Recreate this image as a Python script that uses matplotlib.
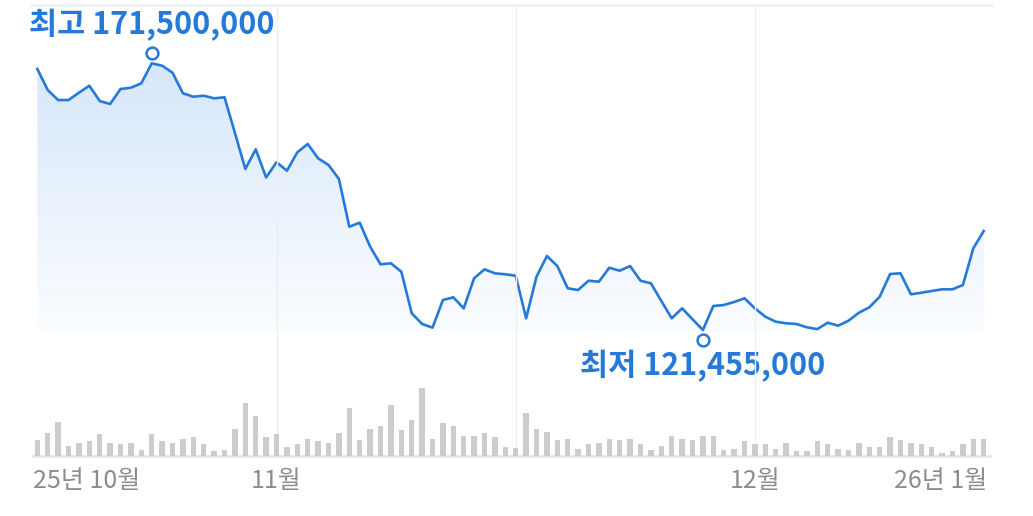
import numpy as np
import matplotlib
matplotlib.use("Agg")
import matplotlib.pyplot as plt
import matplotlib.transforms as mtransforms
from matplotlib.patches import Polygon
from matplotlib.colors import LinearSegmentedColormap

plt.rcParams['font.family'] = ['Noto Sans CJK KR', 'DejaVu Sans']

# ---- data (price in millions of KRW, volume in relative units) ----
price = [170.43, 166.49, 164.61, 164.61, 165.98, 167.30, 164.43, 163.86, 166.68, 166.92,
         167.75, 171.50, 171.05, 169.74, 165.87, 165.23, 165.42, 164.93, 165.12, 158.42,
         151.67, 155.36, 150.07, 152.94, 151.35, 154.80, 156.36, 153.67, 152.42, 149.79,
         140.84, 141.59, 137.09, 133.78, 133.97, 132.39, 124.59, 122.58, 121.90, 127.08,
         127.59, 125.52, 131.16, 132.84, 132.09, 131.91, 131.64, 123.65, 131.46, 135.34,
         133.46, 129.28, 128.96, 130.70, 130.52, 133.14, 132.58, 133.46, 130.70, 130.22,
         126.90, 123.65, 125.52, 123.46, 121.455, 125.96, 126.14, 126.71, 127.40, 125.52,
         123.95, 123.01, 122.71, 122.58, 121.96, 121.62, 122.82, 122.26, 123.20, 124.70,
         125.71, 127.70, 131.96, 132.09, 128.15, 128.45, 128.77, 129.09, 129.09, 129.90,
         136.78, 140.03]
volume = [15.7, 22.7, 34, 10, 13, 14.3, 21.3, 13, 11.7, 13,
          5.7, 21.3, 14.3, 13, 17, 18.3, 11.7, 4.3, 5.7, 27,
          52.3, 39.7, 18.3, 21.3, 8.7, 11.7, 17, 14.3, 13, 22.7,
          48, 15.7, 27, 30, 51, 25.7, 35.3, 67.7, 17, 32.7,
          30, 20, 20, 22.7, 18.3, 8.7, 7.3, 42.7, 27, 24,
          15.7, 17, 7, 11.7, 13, 17, 15.7, 17, 11.7, 5.7,
          10, 20, 17, 15.7, 20, 20, 5.7, 7, 14.3, 11.7,
          11.7, 7, 13, 4.3, 4.3, 14.3, 11.7, 7, 5.7, 13,
          8.7, 8.7, 18.3, 15.7, 13, 11.7, 8.7, 3, 4.3, 11.7,
          17, 17]
tick_idx = [0, 23, 69, 91]
tick_labels = ['25년 10월', '11월', '12월', '26년 1월']
grid_idx = [23, 46, 69]
high_label = '최고 171,500,000'
low_label = '최저 121,455,000'

x = np.arange(len(price))
W, H = 1033, 516
fig = plt.figure(figsize=(W / 100, H / 100), dpi=100)
fig.patch.set_facecolor('white')

ax = fig.add_axes([0, 0, 1, 1])
ax.set_xlim(-3.59, 95.74)
ax.set_ylim(86.55, 183.38)
ax.axis('off')

axv = fig.add_axes([0, 0, 1, 1], sharex=ax)
axv.patch.set_alpha(0)
axv.set_ylim(-60.5, 455.5)
axv.axis('off')

blue = '#2479d9'

# top separator line and baseline
ax.plot([-0.7, 91.9], [182.45, 182.45], color='#f0f0f0', lw=2, solid_capstyle='butt')
axv.plot([-0.4, 91.6], [-0.8, -0.8], color='#e6e6e6', lw=2)

# vertical grid
for g in grid_idx:
    axv.plot([g, g], [0, 450], color='#eeeeee', lw=1, zorder=0)

# gradient fill under line
base = 121.0
verts = [(0, base)] + list(zip(x, price)) + [(x[-1], base)]
poly = Polygon(verts, closed=True, facecolor='none', edgecolor='none')
ax.add_patch(poly)
grad = np.linspace(0, 1, 256).reshape(-1, 1)
cmap = LinearSegmentedColormap.from_list('g', ['#fbfdff', '#d6e7fb'])
im = ax.imshow(grad, aspect='auto', cmap=cmap, origin='lower',
               extent=[0, x[-1], base, max(price)], zorder=1)
im.set_clip_path(poly)

# price line
ax.plot(x, price, color=blue, lw=1.9, zorder=3, solid_joinstyle='round')

# volume bars
axv.bar(x, volume, width=0.52, color='#cccccc', zorder=2)

# high / low markers and labels
ih = int(np.argmax(price))
il = int(np.argmin(price))
up = mtransforms.offset_copy(ax.transData, fig=fig, x=0, y=10, units='dots')
dn = mtransforms.offset_copy(ax.transData, fig=fig, x=0, y=-10, units='dots')
ax.plot(x[ih], price[ih], 'o', ms=8.5, mfc='white', mec=blue, mew=1.8, transform=up, zorder=4)
ax.plot(x[il], price[il], 'o', ms=8.5, mfc='white', mec=blue, mew=1.8, transform=dn, zorder=4)
ax.annotate(high_label, (x[ih], price[ih]), xytext=(0, 38), textcoords='offset pixels',
            ha='center', va='center', color=blue, fontsize=22, fontweight='bold')
ax.annotate(low_label, (x[il], price[il]), xytext=(0, -36), textcoords='offset pixels',
            ha='center', va='center', color=blue, fontsize=22, fontweight='bold')

# x tick labels
tr = mtransforms.blended_transform_factory(ax.transData, fig.transFigure)
has = ['left', 'center', 'center', 'right']
offs = [-0.4, 0, 0, 0.3]
for i, lab, ha, o in zip(tick_idx, tick_labels, has, offs):
    ax.text(i + o, 1 - 481 / H, lab, transform=tr, ha=ha, va='center',
            color='#8c8c8c', fontsize=18)

fig.savefig('out.png', dpi=100, facecolor='white')
